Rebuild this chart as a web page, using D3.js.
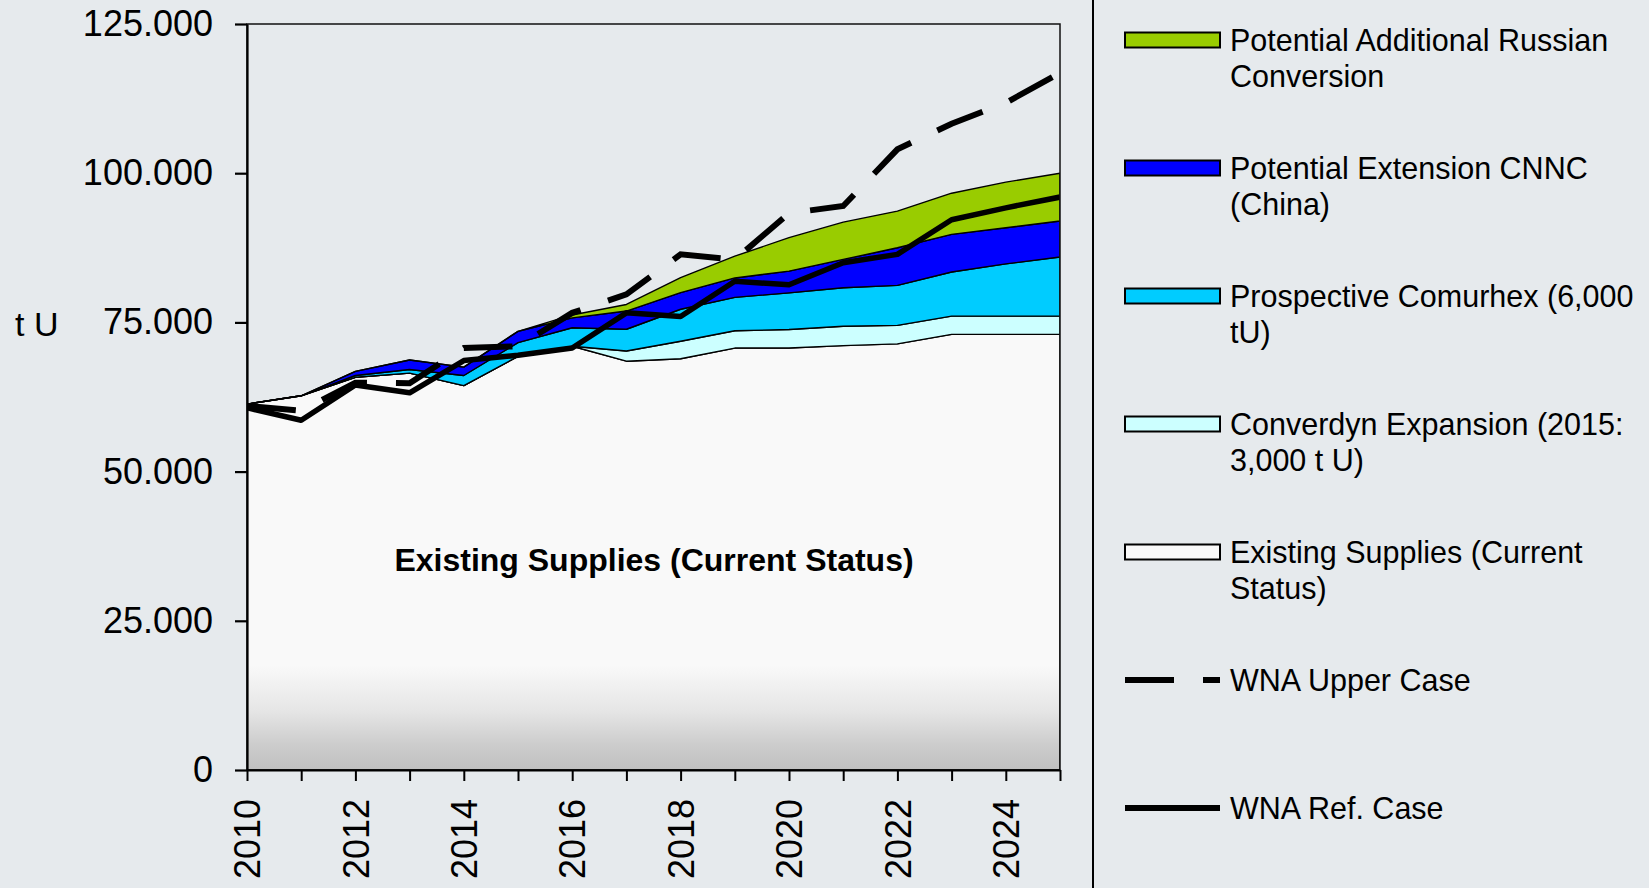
<!DOCTYPE html>
<html>
<head>
<meta charset="utf-8">
<script src="https://cdn.jsdelivr.net/npm/d3@7"></script>
<style>
html, body { margin: 0; padding: 0; background: #e6eaed; }
svg { display: block; font-family: "Liberation Sans", Arial, sans-serif; }
</style>
</head>
<body>
<div id="chart"></div>
<script>
// values (t U)
const years      = [2010, 2011, 2012, 2013, 2014, 2015, 2016, 2017, 2018, 2019, 2020, 2021, 2022, 2023, 2024, 2025];
const existing   = [61300, 62700, 65800, 66500, 64400, 69300, 71000, 68500, 68900, 70700, 70700, 71100, 71400, 73000, 73000, 73000];
const converdyn  = [0, 0, 0, 0, 0, 0, 0, 1700, 2950, 2900, 3100, 3250, 3100, 3050, 3050, 3050];
const comurhex   = [0, 0, 300, 600, 1700, 2300, 3100, 3650, 5350, 5600, 6150, 6450, 6700, 7400, 8750, 9900];
const cnnc       = [0, 0, 700, 1600, 1400, 1900, 1650, 3050, 2800, 3250, 3650, 4750, 6300, 6300, 6050, 6050];
const russian    = [0, 0, 0, 0, 0, 0, 500, 1100, 2500, 3650, 5600, 6250, 6150, 6900, 7650, 8000];
const wnaUpper   = [61000, 60200, 64900, 64800, 70700, 71000, 76600, 79700, 86400, 85500, 93300, 94500, 104000, 108300, 111800, 116800];
const wnaRef     = [60700, 58600, 64500, 63200, 68600, 69500, 70700, 76600, 76000, 81900, 81300, 85000, 86400, 92200, 94200, 96000];
const yTicks     = [0, 25000, 50000, 75000, 100000, 125000];
const xLabelYears = [2010, 2012, 2014, 2016, 2018, 2020, 2022, 2024];

const areaKeys = ['existing', 'converdyn', 'comurhex', 'cnnc', 'russian'];
const legendItems = [
    {key: 'russian',   type: 'area', lines: ['Potential Additional Russian', 'Conversion']},
    {key: 'cnnc',      type: 'area', lines: ['Potential Extension CNNC', '(China)']},
    {key: 'comurhex',  type: 'area', lines: ['Prospective Comurhex (6,000', 'tU)']},
    {key: 'converdyn', type: 'area', lines: ['Converdyn Expansion (2015:', '3,000 t U)']},
    {key: 'existing',  type: 'area', lines: ['Existing Supplies (Current', 'Status)']},
    {key: 'upper',     type: 'dash', lines: ['WNA Upper Case']},
    {key: 'ref',       type: 'line', lines: ['WNA Ref. Case']}
];

const colors = {
    russian: '#99cc00',
    cnnc: '#0000ff',
    comurhex: '#00ccff',
    converdyn: '#ccffff',
    existing: '#f9f9f9'
};

let w = 1649, h = 888;
let plot = {left: 247, right: 1060, top: 24, bottom: 770};

let svg = d3.select('#chart').append('svg')
    .attr('width', w).attr('height', h);

svg.append('rect').attr('width', w).attr('height', h).attr('fill', '#e6eaed');

let defs = svg.append('defs');
let grad = defs.append('linearGradient').attr('id', 'existGrad')
    .attr('gradientUnits', 'userSpaceOnUse')
    .attr('x1', 0).attr('x2', 0).attr('y1', plot.top).attr('y2', plot.bottom);
[[0, '#f9f9f9'], [0.86, '#f9f9f9'], [0.92, '#e6e6e6'], [0.965, '#cdcdcd'], [1, '#c0c0c0']].forEach((s) => {
    grad.append('stop').attr('offset', s[0]).attr('stop-color', s[1]);
});
defs.append('clipPath').attr('id', 'plotClip').append('rect')
    .attr('x', plot.left).attr('y', plot.top)
    .attr('width', plot.right - plot.left).attr('height', plot.bottom - plot.top);

let x = d3.scaleLinear().domain([2010, 2025]).range([plot.left, plot.right]);
let y = d3.scaleLinear().domain([0, 125000]).range([plot.bottom, plot.top]);

let table = years.map((yr, i) => ({
    year: yr,
    existing: existing[i],
    converdyn: converdyn[i],
    comurhex: comurhex[i],
    cnnc: cnnc[i],
    russian: russian[i]
}));

let stacked = d3.stack().keys(areaKeys)(table);

let area = d3.area()
    .x((d) => x(d.data.year))
    .y0((d) => y(d[0]))
    .y1((d) => y(d[1]));

let g = svg.append('g').attr('clip-path', 'url(#plotClip)');

g.selectAll('.layer').data(stacked).enter().append('path')
    .attr('class', 'layer')
    .attr('d', area)
    .attr('fill', (d) => d.key === 'existing' ? 'url(#existGrad)' : colors[d.key])
    .attr('stroke', '#000').attr('stroke-width', 1.4).attr('stroke-linejoin', 'round');

let line = d3.line()
    .x((d, i) => x(years[i])).y((d) => y(d));

g.append('path').datum(wnaUpper)
    .attr('d', line).attr('fill', 'none')
    .attr('stroke', '#000').attr('stroke-width', 6)
    .attr('stroke-dasharray', '49,29');

g.append('path').datum(wnaRef)
    .attr('d', line).attr('fill', 'none')
    .attr('stroke', '#000').attr('stroke-width', 5.5)
    .attr('stroke-linejoin', 'round');

//center label
svg.append('text')
    .attr('x', 654).attr('y', 571)
    .attr('text-anchor', 'middle')
    .style('font-size', '32px').style('font-weight', 'bold')
    .text('Existing Supplies (Current Status)');

//plot border
svg.append('rect')
    .attr('x', plot.left).attr('y', plot.top)
    .attr('width', plot.right - plot.left).attr('height', plot.bottom - plot.top)
    .attr('fill', 'none').attr('stroke', '#111').attr('stroke-width', 1.5);

let fmt = d3.formatLocale({decimal: ',', thousands: '.', grouping: [3], currency: ['', '']}).format(',');

let yAxis = d3.axisLeft(y).tickValues(yTicks).tickSize(12).tickSizeOuter(0)
    .tickPadding(22).tickFormat(fmt);
let yg = svg.append('g').attr('transform', `translate(${plot.left},0)`).call(yAxis);
yg.selectAll('text').style('font-size', '36px').attr('fill', '#000');
yg.selectAll('line, path').attr('stroke', '#000').attr('stroke-width', 2.2);

let xAxis = d3.axisBottom(x).tickValues(years).tickSize(11).tickSizeOuter(0)
    .tickFormat((d) => xLabelYears.indexOf(d) >= 0 ? d : '');
let xg = svg.append('g').attr('transform', `translate(0,${plot.bottom})`).call(xAxis);
xg.selectAll('text')
    .attr('transform', 'rotate(-90)')
    .attr('x', -29).attr('y', 0).attr('dy', '0.35em')
    .style('text-anchor', 'end').style('font-size', '36px').attr('fill', '#000');
xg.selectAll('line, path').attr('stroke', '#000').attr('stroke-width', 2);

svg.append('text')
    .attr('x', 15).attr('y', 336)
    .style('font-size', '34px')
    .text('t U');

//legend
svg.append('line')
    .attr('x1', 1093).attr('x2', 1093).attr('y1', 0).attr('y2', h)
    .attr('stroke', '#000').attr('stroke-width', 2);

let legend = svg.append('g').classed('legend', true);
legendItems.forEach((item, i) => {
    let cy = 40 + i * 128;
    if (item.type === 'area') {
        legend.append('rect')
            .attr('x', 1125).attr('y', cy - 7.5)
            .attr('width', 95).attr('height', 15)
            .attr('fill', colors[item.key])
            .attr('stroke', '#000').attr('stroke-width', 2);
    } else {
        legend.append('line')
            .attr('x1', 1125).attr('x2', 1220).attr('y1', cy).attr('y2', cy)
            .attr('stroke', '#000').attr('stroke-width', 6)
            .attr('stroke-dasharray', item.type === 'dash' ? '49,29' : null);
    }
    item.lines.forEach((t, j) => {
        legend.append('text')
            .attr('x', 1230).attr('y', cy + 11 + j * 35.7)
            .style('font-size', '30.5px')
            .text(t);
    });
});
</script>
</body>
</html>
